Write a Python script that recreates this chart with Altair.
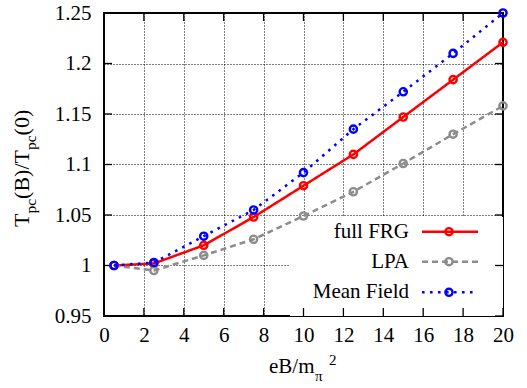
import altair as alt
import pandas as pd

# Normalised pseudo-critical temperature vs. magnetic field strength
eb = [0.5, 2.5, 5, 7.5, 10, 12.5, 15, 17.5, 20]
full_frg = [1.000, 1.002, 1.020, 1.048, 1.079, 1.110, 1.147, 1.184, 1.221]
lpa = [1.000, 0.995, 1.010, 1.026, 1.049, 1.073, 1.101, 1.130, 1.158]
mean_field = [1.000, 1.003, 1.029, 1.055, 1.092, 1.135, 1.172, 1.210, 1.250]

series_names = ["full FRG", "LPA", "Mean Field"]
series_values = [full_frg, lpa, mean_field]
series_colors = ["#ff0000", "#8c8c8c", "#0000ff"]
series_dash = [[1, 0], [6, 4], [2.6, 5.4]]

x_ticks = [0, 2, 4, 6, 8, 10, 12, 14, 16, 18, 20]
y_ticks = [0.95, 1.0, 1.05, 1.1, 1.15, 1.2, 1.25]

W, H = 399, 303
FONT = "Liberation Serif"
MARK = dict(shape="circle", filled=False, size=52, strokeWidth=2.4, opacity=1)

x_scale = alt.Scale(domain=[0, 20], nice=False, zero=False)
y_scale = alt.Scale(domain=[0.95, 1.25], nice=False, zero=False)

x_axis = alt.Axis(values=x_ticks, labelPadding=8, title=None)
y_axis = alt.Axis(values=y_ticks, format="~g", labelPadding=13, title=None)


def xq(field):
    return alt.X(f"{field}:Q", scale=x_scale, axis=x_axis)


def yq(field):
    return alt.Y(f"{field}:Q", scale=y_scale, axis=y_axis)


rows = []
for name, vals in zip(series_names, series_values):
    for xv, yv in zip(eb, vals):
        rows.append({"series": name, "eB": xv, "T": yv})
df = pd.DataFrame(rows)

one = pd.DataFrame({"k": [0]})
layers = []

# white backing for the key, hiding the grid beneath it
layers.append(
    alt.Chart(one).mark_rect(fill="white").encode(
        x=alt.value(186), x2=alt.value(W), y=alt.value(204), y2=alt.value(H)
    )
)

# inward tick marks on all four sides
xt = pd.DataFrame({"v": x_ticks})
yt = pd.DataFrame({"v": y_ticks})
tick_style = dict(color="black", strokeWidth=1.3)
layers.append(alt.Chart(xt).mark_rule(**tick_style).encode(
    x=xq("v"), y=alt.value(H), y2=alt.value(H - 8)))
layers.append(alt.Chart(xt).mark_rule(**tick_style).encode(
    x=xq("v"), y=alt.value(0), y2=alt.value(8)))
layers.append(alt.Chart(yt).mark_rule(**tick_style).encode(
    y=yq("v"), x=alt.value(0), x2=alt.value(8)))
layers.append(alt.Chart(yt).mark_rule(**tick_style).encode(
    y=yq("v"), x=alt.value(W - 8), x2=alt.value(W)))

# data curves with open circle markers
for name, color, dash in zip(series_names, series_colors, series_dash):
    sub = df[df["series"] == name]
    layers.append(
        alt.Chart(sub).mark_line(color=color, strokeWidth=2.5, strokeDash=dash).encode(
            x=xq("eB"), y=yq("T"))
    )
    layers.append(
        alt.Chart(sub).mark_point(color=color, **MARK).encode(x=xq("eB"), y=yq("T"))
    )

# key
key_rows = [218.7, 248.7, 279.3]
for name, color, dash, ky in zip(series_names, series_colors, series_dash, key_rows):
    kd = pd.DataFrame({"label": [name]})
    layers.append(alt.Chart(kd).mark_text(
        align="right", baseline="middle", font=FONT, fontSize=21, color="black"
    ).encode(x=alt.value(305), y=alt.value(ky), text="label:N"))
    layers.append(alt.Chart(kd).mark_rule(
        color=color, strokeWidth=2.5, strokeDash=dash
    ).encode(x=alt.value(318), x2=alt.value(374), y=alt.value(ky)))
    layers.append(alt.Chart(kd).mark_point(color=color, **MARK).encode(
        x=alt.value(345), y=alt.value(ky)))


# axis titles built from pieces so sub/superscripts can be placed
def piece(txt, x, y, size, angle=0):
    kw = dict(align="left", baseline="alphabetic", font=FONT, fontSize=size,
              color="black")
    if angle:
        kw["angle"] = angle
    return alt.Chart(pd.DataFrame({"t": [txt]})).mark_text(**kw).encode(
        x=alt.value(x), y=alt.value(y), text="t:N")


# x title: eB/m_pi^2
layers.append(piece("eB/m", 165, 360, 21))
layers.append(piece("π", 211, 368, 15))
layers.append(piece("2", 225, 351.5, 15))

# y title: T_pc(B)/T_pc(0), rotated to read upwards
S, s = 22, 15.5
adv = {"T": 0.611, "p": 0.5, "c": 0.444, "(": 0.333, ")": 0.333, "B": 0.667,
       "/": 0.278, "0": 0.5}


def width(txt, size):
    return sum(adv[ch] for ch in txt) * size


base_x, sub_x = -75, -68
pos = 214
for txt, is_sub in [("T", False), ("pc", True), ("(B)/T", False), ("pc", True), ("(0)", False)]:
    size = s if is_sub else S
    layers.append(piece(txt, sub_x if is_sub else base_x, pos, size, angle=270))
    pos -= width(txt, size)

chart = alt.layer(*layers).properties(
    width=W, height=H,
    autosize=alt.AutoSizeParams(type="none"),
    padding={"left": 104, "top": 13, "right": 24, "bottom": 72},
).configure_view(
    stroke="black", strokeWidth=2
).configure_axis(
    grid=True, gridColor="black", gridDash=[1, 2], gridWidth=1, gridOpacity=1,
    ticks=False, tickSize=0, domain=False,
    labelFont=FONT, labelFontSize=21, labelColor="black", labelFlush=False,
    labelOverlap=False,
)

chart.save("out.html", embed_options={"renderer": "svg", "actions": False})
